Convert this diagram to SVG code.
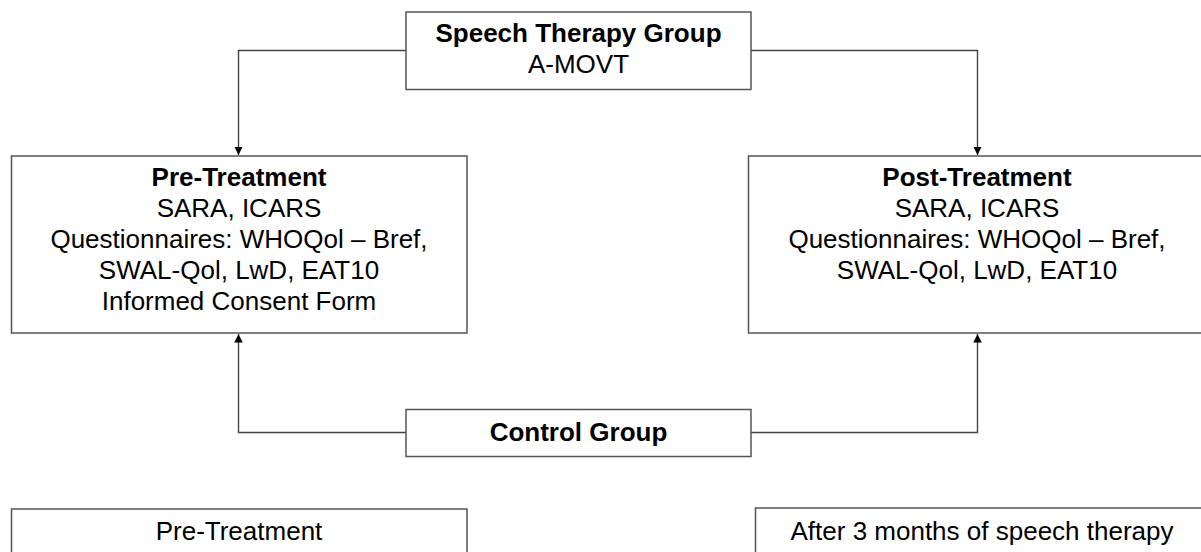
<svg xmlns="http://www.w3.org/2000/svg" width="1201" height="552" viewBox="0 0 1201 552">
<style>
.box{fill:#fff;stroke:#555;stroke-width:1.5}
.t{font-family:"Liberation Sans",Arial,sans-serif;font-size:26px;fill:#000;text-anchor:middle}
.b{font-weight:bold}
.c{fill:none;stroke:#444;stroke-width:1.4}
</style>
<defs>
<marker id="ah" viewBox="0 0 10 10" refX="10" refY="5" markerWidth="8.5" markerHeight="8.5" markerUnits="userSpaceOnUse" orient="auto">
<path d="M0,0 L10,5 L0,10 Z" fill="#000"/>
</marker>
</defs>
<rect width="1201" height="552" fill="#fff"/>
<g id="connectors">
<path class="c" d="M406,50.5 H238.5 V155" marker-end="url(#ah)"/>
<path class="c" d="M751,50.5 H977.5 V155" marker-end="url(#ah)"/>
<path class="c" d="M406,432.5 H238.5 V334" marker-end="url(#ah)"/>
<path class="c" d="M751,432.5 H977.5 V334" marker-end="url(#ah)"/>
</g>
<g id="speech">
<rect class="box" x="406" y="12" width="345" height="77.5"/>
<text class="t b" x="578.5" y="42">Speech Therapy Group</text>
<text class="t" x="578.5" y="73">A-MOVT</text>
</g>
<g id="pre">
<rect class="box" x="11.5" y="156" width="455.5" height="177"/>
<text class="t b" x="239" y="185.5">Pre-Treatment</text>
<text class="t" x="239" y="216.5">SARA, ICARS</text>
<text class="t" x="239" y="247.5">Questionnaires: WHOQol – Bref,</text>
<text class="t" x="239" y="278.5">SWAL-Qol, LwD, EAT10</text>
<text class="t" x="239" y="309.5">Informed Consent Form</text>
</g>
<g id="post">
<rect class="box" x="748.5" y="156" width="458" height="177"/>
<text class="t b" x="977" y="185.5">Post-Treatment</text>
<text class="t" x="977" y="216.5">SARA, ICARS</text>
<text class="t" x="977" y="247.5">Questionnaires: WHOQol – Bref,</text>
<text class="t" x="977" y="278.5">SWAL-Qol, LwD, EAT10</text>
</g>
<g id="control">
<rect class="box" x="406" y="409.5" width="345" height="47"/>
<text class="t b" x="578.5" y="441">Control Group</text>
</g>
<g id="pre2">
<rect class="box" x="11.5" y="509" width="455.5" height="60"/>
<text class="t" x="239" y="540">Pre-Treatment</text>
</g>
<g id="after">
<rect class="box" x="755.5" y="508" width="455" height="60"/>
<text class="t" x="982" y="540">After 3 months of speech therapy</text>
</g>
</svg>
